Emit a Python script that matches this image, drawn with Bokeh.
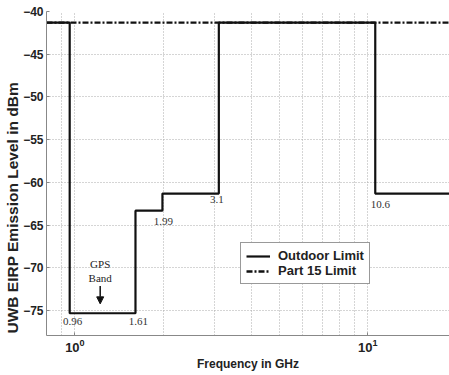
from bokeh.plotting import figure
from bokeh.models import (FixedTicker, LogTickFormatter, Range1d, Arrow, NormalHead,
                          Label, Legend, LegendItem, Title)
from bokeh.embed import file_html
from bokeh.resources import INLINE

# ---- data ----
edges_ghz = [0.8, 0.96, 1.61, 1.99, 3.1, 10.6, 19.0]
outdoor_dbm = [-41.3, -75.3, -63.3, -61.3, -41.3, -61.3, -61.3]
part15_x = [0.8, 19.0]
part15_dbm = [-41.3, -41.3]

edge_labels = ["0.96", "1.61", "1.99", "3.1", "10.6"]
edge_label_x = [0.96, 1.61, 1.99, 3.1, 10.6]
edge_label_y = [-76.3, -76.3, -64.6, -62.0, -62.6]
edge_label_dx = [3, 3, 1, -2, 5]

gps_x = 1.22
gps_text_y = [-69.5, -71.15]
gps_text = ["GPS", "Band"]
gps_arrow_y = [-72.1, -74.2]

x_major_ticks = [1, 10]
x_minor_ticks = [0.9, 2, 3, 4, 5, 6, 7, 8, 9, 20]
y_ticks = [-75, -70, -65, -60, -55, -50, -45, -40]

p = figure(width=449, height=375, x_axis_type="log", output_backend="svg",
           toolbar_location=None, x_range=Range1d(0.8, 19.0),
           y_range=Range1d(-77.9, -40),
           min_border_left=46, min_border_right=0, min_border_top=11,
           min_border_bottom=40)
p.outline_line_color = None
p.background_fill_color = "white"
p.border_fill_color = "white"

p.xaxis.ticker = FixedTicker(ticks=x_major_ticks, minor_ticks=x_minor_ticks)
p.xaxis.formatter = LogTickFormatter()
p.yaxis.ticker = FixedTicker(ticks=y_ticks)
for ax in (p.xaxis[0], p.yaxis[0]):
    ax.axis_line_color = "#888888"
    ax.axis_line_width = 1
    ax.major_tick_in = 3
    ax.major_tick_out = 0
    ax.minor_tick_in = 0
    ax.minor_tick_out = 0
    ax.major_tick_line_color = "#888888"
    ax.major_label_text_font = "Liberation Sans"
    ax.major_label_text_font_style = "bold"
    ax.major_label_text_font_size = "12px"
    ax.major_label_text_color = "#222222"
    ax.axis_label_text_font = "Liberation Sans"
    ax.axis_label_text_font_style = "bold"
    ax.axis_label_text_color = "#222222"
p.xaxis.axis_label = "Frequency in GHz"
p.xaxis.axis_label_text_font_size = "12px"
p.xaxis.major_label_text_font_size = "13px"
p.xaxis.major_label_standoff = 3
p.xaxis.axis_label_standoff = 2
p.yaxis.major_label_standoff = 3

# y-axis title, starting near the frame bottom as in the reference
ytitle = Title(text="UWB EIRP Emission Level in dBm", align="left", offset=2,
               text_font="Liberation Sans", text_font_style="bold",
               text_font_size="15.5px", text_color="#222222", standoff=0)
p.add_layout(ytitle, "left")

for g in (p.xgrid[0], p.ygrid[0]):
    g.grid_line_color = "#aaaaaa"
    g.grid_line_dash = "1 2"
    g.grid_line_width = 1
p.xgrid.minor_grid_line_color = "#aaaaaa"
p.xgrid.minor_grid_line_dash = "1 2"

r_out = p.step(edges_ghz, outdoor_dbm, mode="after", line_color="#111111", line_width=2.2)
r_p15 = p.line(part15_x, part15_dbm, line_color="#111111", line_width=2.4,
               line_dash="6 2 2 2")

for t, x, y, dx in zip(edge_labels, edge_label_x, edge_label_y, edge_label_dx):
    p.add_layout(Label(x=x, y=y, text=t, x_offset=dx, text_align="center",
                       text_baseline="middle", text_font="Liberation Serif",
                       text_font_size="11px", text_color="#333333"))
for t, y in zip(gps_text, gps_text_y):
    p.add_layout(Label(x=gps_x, y=y, text=t, text_align="center",
                       text_baseline="middle", text_font="Liberation Serif",
                       text_font_size="11px", text_color="#222222"))
p.add_layout(Arrow(x_start=gps_x, y_start=gps_arrow_y[0], x_end=gps_x,
                   y_end=gps_arrow_y[1], line_color="#111111", line_width=1.5,
                   end=NormalHead(size=7, fill_color="#111111", line_color="#111111")))

legend = Legend(items=[LegendItem(label="Outdoor Limit", renderers=[r_out]),
                       LegendItem(label="Part 15 Limit", renderers=[r_p15])],
                location=(194, 51))
legend.label_text_font = "Liberation Sans"
legend.label_text_font_style = "bold"
legend.label_text_font_size = "13px"
legend.label_text_color = "#222222"
legend.border_line_color = "#333333"
legend.border_line_width = 1
legend.background_fill_alpha = 1
legend.padding = 5
legend.spacing = 0
legend.margin = 0
legend.label_height = 12
legend.glyph_height = 12
legend.glyph_width = 24
legend.label_standoff = 8
p.add_layout(legend, "center")

open("out.html", "w").write(file_html(p, INLINE))
